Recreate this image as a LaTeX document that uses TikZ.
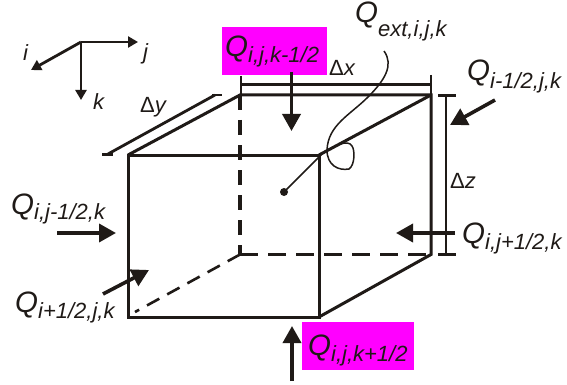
\documentclass[tikz,border=0pt]{standalone}
\usepackage{fontspec}
\setmainfont{Liberation Sans}
\usetikzlibrary{arrows.meta}
\definecolor{ink}{HTML}{1F1A17}
\definecolor{mag}{HTML}{FF00FF}
\newcommand{\QQ}[2][6]{{\fontsize{29.5}{30}\selectfont\itshape Q}\raisebox{-#1pt}{\fontsize{22}{22}\selectfont\itshape #2}}
\tikzset{
  edgeline/.style={draw=ink,line width=3pt,line cap=butt},
  dashthick/.style={draw=ink,line width=3.6pt,dash pattern=on 15pt off 10pt},
  dashthin/.style={draw=ink,line width=2.6pt,dash pattern=on 14pt off 9pt},
  flow/.style={draw=ink,line width=3.6pt,-{Triangle[length=17pt,width=18pt]}},
  axis/.style={draw=ink,line width=2.8pt,-{Triangle[length=10pt,width=11pt]}},
  dim/.style={draw=ink,line width=2.8pt},
  lab/.style={anchor=base west,inner sep=0pt,text=ink},
  small/.style={lab,font=\fontsize{22}{22}\selectfont\itshape},
  delta/.style={lab,font=\fontsize{22}{22}\selectfont},
  patch/.style={fill=mag,draw=none}
}
\begin{document}
\begin{tikzpicture}[x=1pt,y=-1pt]
\useasboundingbox (0,0) rectangle (567,385);
\fill[white] (0,0) rectangle (567,385);
\fill[patch] (222,27) rectangle (327,75);
\fill[patch] (302,322) rectangle (414,370);
% corners
\coordinate (ftl) at (128,155); \coordinate (ftr) at (319,155);
\coordinate (fbl) at (128,317); \coordinate (fbr) at (319,317);
\coordinate (btl) at (240,95); \coordinate (btr) at (431,95);
\coordinate (bbl) at (240,254.5); \coordinate (bbr) at (431,254.5);
\coordinate (dtl) at (135,312);
% dashed
\draw[dashthick] (btl) -- (bbl);
\draw[dashthick,dash pattern=on 18pt off 10pt] (bbl) -- (bbr);
\draw[dashthin] (bbl) -- (dtl);
% solid
\draw[edgeline,line join=miter] (ftl) -- (ftr) -- (fbr) -- (fbl) -- cycle;
\draw[edgeline] (ftl) -- (btl) -- (btr) -- (bbr) -- (fbr);
\draw[edgeline] (ftr) -- (btr);
% axes
\coordinate (o) at (81,42); \coordinate (aj) at (138,42); \coordinate (ai) at (31,70); \coordinate (ak) at (81,100);
\draw[axis] (o) -- (aj);
\draw[axis] (o) -- (ai);
\draw[axis] (o) -- (ak);
\node[small] (li) at (23,61) {i};
\node[small] (lj) at (143,60) {j};
\node[small] (lk) at (93,110) {k};
% dimensions
\coordinate (xa) at (241,84.5); \coordinate (xb) at (431,84.5);
\draw[dim] (xa) -- (xb);
\draw[dim] (241,76) -- (241,95);
\draw[dim,line width=1.6pt] (431,75) -- (431,95);
\coordinate (za) at (446,95.5); \coordinate (zb) at (446,254.5);
\draw[dim] (za) -- (zb);
\draw[dim,line width=2.2pt] (438,95.5) -- (456,95.5);
\draw[dim,line width=2.2pt] (438,254.5) -- (456,254.5);
\coordinate (ya) at (108,154); \coordinate (yb) at (215,95);
\draw[dim] (ya) -- (yb);
\draw[dim] (102,154.5) -- (113,154.5);
\draw[dim] (212,95) -- (222,95);
\node[delta] (dx) at (329,76) {Δ\textit{x}};
\node[delta] (dy) at (140,113) {Δ\textit{y}};
\node[delta] (dz) at (450,188) {Δ\textit{z}};
% leader
\coordinate (ls) at (384,51); \coordinate (ld) at (284,192);
\draw[draw=ink,line width=1.5pt] (ls) .. controls (394,65) and (385,80) .. (368,97)
  .. controls (350,115) and (328,125) .. (327,150)
  .. controls (327,165) and (338,171) .. (349,169)
  .. controls (355,165) and (355,150) .. (352,146)
  .. controls (348,139) and (335,145) .. (322,154) -- (ld);
\fill[ink] (ld) circle (4pt);
% flow arrows
\coordinate (a1) at (291.5,72); \coordinate (a2) at (291.5,131);
\coordinate (b1) at (292,381); \coordinate (b2) at (292,326);
\coordinate (c1) at (57,233); \coordinate (c2) at (116,233);
\coordinate (d1) at (455,233); \coordinate (d2) at (396,233);
\coordinate (e1) at (495,100); \coordinate (e2) at (450,125);
\coordinate (f1) at (103,294); \coordinate (f2) at (149,270);
\draw[flow] (a1) -- (a2);
\draw[flow] (b1) -- (b2);
\draw[flow] (c1) -- (c2);
\draw[flow] (d1) -- (d2);
\draw[flow] (e1) -- (e2);
\draw[flow] (f1) -- (f2);
% labels
\node[lab] (qt) at (225,57) {\QQ{i,j,k-1/2}};
\node[lab] (qb) at (308,355) {\QQ{i,j,k+1/2}};
\node[lab] (qe) at (355,23) {\QQ[14]{ext,i,j,k}};
\node[lab] (qim) at (467,81) {\QQ[8]{i-1/2,j,k}};
\node[lab] (qjp) at (462,243) {\QQ{i,j+1/2,k}};
\node[lab] (qjm) at (11,214) {\QQ[5]{i,j-1/2,k}};
\node[lab] (qip) at (15,312) {\QQ{i+1/2,j,k}};
\end{tikzpicture}
\end{document}
